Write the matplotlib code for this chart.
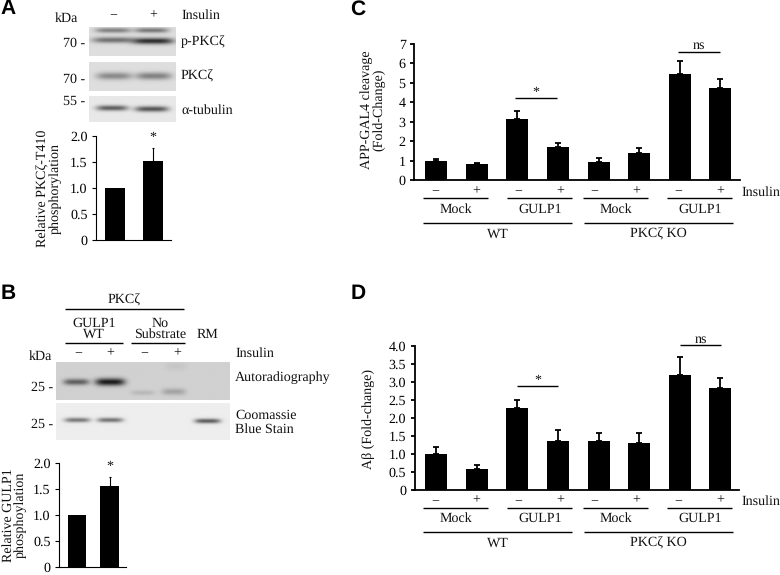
import numpy as np
import matplotlib
matplotlib.use("Agg")
import matplotlib.pyplot as plt

plt.rcParams['font.family'] = ['Liberation Serif', 'DejaVu Serif']
plt.rcParams['text.hinting'] = 'no_hinting'
plt.rcParams['text.hinting_factor'] = 1

W, H = 780, 575

# bar values
a_vals = [1.0, 1.52]
a_err = [0, 0.24]
a_ticks = [0, 0.5, 1.0, 1.5, 2.0]
a_labels = ['0', '0.5', '1.0', '1.5', '2.0']

b_vals = [1.0, 1.56]
b_err = [0, 0.18]

c_vals = [1.0, 0.83, 3.15, 1.72, 0.95, 1.38, 5.45, 4.72]
c_err = [0.08, 0.07, 0.43, 0.18, 0.17, 0.29, 0.68, 0.50]
c_ticks = [0, 1, 2, 3, 4, 5, 6, 7]

d_vals = [1.0, 0.59, 2.28, 1.35, 1.35, 1.30, 3.20, 2.84]
d_err = [0.20, 0.10, 0.22, 0.32, 0.23, 0.28, 0.48, 0.26]
d_ticks = [0, 0.5, 1.0, 1.5, 2.0, 2.5, 3.0, 3.5, 4.0]
d_labels = ['0', '0.5', '1.0', '1.5', '2.0', '2.5', '3.0', '3.5', '4.0']

# blot bands: x centre, y centre, half width, thickness, darkness
pakc_bands = [(113, 30, 18, 2.6, 0.42), (152, 30, 17, 2.6, 0.46),
              (113, 40, 21, 3.0, 0.5), (153, 41, 21, 3.2, 0.8)]
pkc_bands = [(114, 76, 18, 3.8, 0.38), (154, 76, 18, 3.8, 0.42)]
tub_bands = [(112, 108, 16, 2.8, 0.6), (152, 109, 17, 2.9, 0.64)]
auto_bands = [(76, 382, 13, 3.2, 0.55), (110, 382, 15, 3.8, 0.88),
              (143, 393, 12, 2.6, 0.12), (174, 392, 12, 3.4, 0.22),
              (176, 366, 11, 4.5, 0.05)]
coom_bands = [(77, 420, 13, 2.4, 0.5), (110, 420, 13, 2.4, 0.52),
              (208, 421, 13, 2.4, 0.62)]

FS = 10


def draw_blot(ov, x0, x1, y0, y1, bg, bands):
    xx, yy = np.meshgrid(np.arange(x0, x1 + 1), np.arange(y0, y1 + 1))
    img = np.full(xx.shape, float(bg))
    for xc, yc, hw, th, dark in bands:
        shape = np.exp(-((xx - xc) / hw) ** 4) * np.exp(-((yy - yc) / th) ** 2)
        img = img * (1 - dark * shape)
    ov.imshow(img, cmap='gray', vmin=0, vmax=1, extent=[x0, x1, y1, y0],
              interpolation='bilinear', aspect='auto', zorder=1)


def bar_axes(fig, x0, x1, ytop, ybot, ymax, centres, width, vals, errs, ticks, labels, lw, cap):
    ax = fig.add_axes([x0 / W, 1 - ybot / H, (x1 - x0) / W, (ybot - ytop) / H])
    ax.bar(centres, vals, width, color='black', zorder=2)
    for x, v, e in zip(centres, vals, errs):
        if e > 0:
            ax.errorbar([x], [v], yerr=[[0], [e]], fmt='none', ecolor='black',
                        elinewidth=lw, capsize=cap, capthick=lw, zorder=1)
    ax.set_xlim(x0, x1)
    ax.set_ylim(0, ymax)
    ax.set_yticks(ticks)
    ax.set_yticklabels(labels, fontsize=FS)
    ax.set_xticks([])
    ax.spines['top'].set_visible(False)
    ax.spines['right'].set_visible(False)
    ax.spines['left'].set_linewidth(lw)
    ax.spines['bottom'].set_linewidth(lw)
    ax.tick_params(axis='y', length=3, width=lw, pad=3, direction='out')
    ax.patch.set_alpha(0)
    return ax


fig = plt.figure(figsize=(W / 100, H / 100), dpi=100)
ov = fig.add_axes([0, 0, 1, 1])
ov.set_xlim(0, W)
ov.set_ylim(H, 0)
ov.axis('off')


def txt(x, y, s, fs=FS, ha='center', **kw):
    ov.text(x, y, s, fontsize=fs, ha=ha, va='center', color='#111111', **kw)


def hline(x0, x1, y, lw=1.0):
    ov.plot([x0, x1], [y, y], color='black', lw=lw, solid_capstyle='butt')


for s, x, y in [('A', 8, 9), ('B', 8, 294), ('C', 358, 9), ('D', 358, 294)]:
    ov.text(x, y, s, fontsize=15, fontweight='bold', family='Liberation Sans', ha='center', va='center')

# panel A blots
draw_blot(ov, 89, 176, 27, 56, 0.87, pakc_bands)
draw_blot(ov, 89, 176, 62, 91, 0.87, pkc_bands)
draw_blot(ov, 89, 176, 96, 122, 0.91, tub_bands)
txt(66, 18, 'kDa')
txt(113, 15, '\u2212')
txt(153, 15, '+')
txt(181, 15, 'Insulin', ha='left')
txt(181, 42, 'p-PKC\u03b6', ha='left')
txt(181, 76, 'PKC\u03b6', ha='left')
txt(181, 110, '\u03b1-tubulin', ha='left')
txt(85, 43, '70 -', ha='right')
txt(85, 79, '70 -', ha='right')
txt(85, 101, '55 -', ha='right')
txt(153, 138, '*', fs=10)
txt(49.5, 188, 'Relative PKC\u03b6-T410\nphosphorylation', rotation=90, linespacing=1.0)

# panel B blots
draw_blot(ov, 56, 230, 362, 400, 0.82, auto_bands)
draw_blot(ov, 56, 230, 403, 440, 0.93, coom_bands)
txt(124, 300, 'PKC\u03b6')
hline(65, 184, 308.5)
txt(94, 329, 'GULP1\nWT', linespacing=0.82)
hline(65, 123, 343)
txt(160, 329, 'No\nSubstrate', linespacing=0.82)
hline(131, 185, 343)
txt(207, 335, 'RM')
txt(40, 356, 'kDa')
for x, s in [(78, '\u2212'), (110, '+'), (144, '\u2212'), (177, '+')]:
    txt(x, 353, s)
txt(235, 353, 'Insulin', ha='left')
txt(235, 378, 'Autoradiography', ha='left')
txt(235, 415, 'Coomassie', ha='left')
txt(235, 429, 'Blue Stain', ha='left')
txt(53, 387, '25 -', ha='right')
txt(53, 424, '25 -', ha='right')
txt(110, 467, '*', fs=10)
txt(14.5, 515, 'Relative GULP1\nphosphoylation', rotation=90, linespacing=1.0)

# bar charts
bar_axes(fig, 96, 171, 135.7, 240, 2.0, [115, 153], 20, a_vals, a_err, a_ticks, a_labels, 0.8, 1)
bar_axes(fig, 59, 126, 463, 567, 2.0, [77, 109.5], 18.5, b_vals, b_err, a_ticks, a_labels, 0.8, 1)

cd_centres = [436, 476.7, 517.3, 558, 598.5, 639, 679.7, 720]
bar_axes(fig, 414, 740, 44, 180.3, 7, cd_centres, 22, c_vals, c_err, c_ticks,
         [str(t) for t in c_ticks], 1.3, 2)
bar_axes(fig, 414.5, 739, 345.7, 490, 4.0, cd_centres, 22, d_vals, d_err, d_ticks, d_labels, 1.3, 2)

txt(373, 110, 'APP-GAL4 cleavage\n(Fold-Change)', rotation=90, linespacing=1.0)
txt(369, 419, 'A\u03b2 (Fold-change)', rotation=90)

# group labels under C and D
for dy in [0, 309.5]:
    for x, s in zip([435, 476, 518, 560, 594, 636, 678, 720], ['\u2212', '+'] * 4):
        txt(x, 191 + dy, s)
    txt(741, 192 + dy, 'Insulin', ha='left')
    hline(423, 488, 198 + dy)
    hline(507, 572, 198 + dy)
    hline(583, 648, 198 + dy)
    hline(667, 732, 198 + dy)
    txt(456, 209 + dy, 'Mock')
    txt(540, 209 + dy, 'GULP1')
    txt(616, 209 + dy, 'Mock')
    txt(700, 209 + dy, 'GULP1')
    hline(423, 572, 222.5 + dy)
    hline(584, 733, 222.5 + dy)
    txt(498, 234 + dy, 'WT')
    txt(658, 234 + dy, 'PKC\u03b6 KO')

# significance marks
hline(515, 557, 97.5)
txt(536, 93, '*', fs=10)
hline(678, 720, 51.5)
txt(699, 45, 'ns')
hline(517, 558, 385.5)
txt(538, 381, '*', fs=10)
hline(680, 721, 345)
txt(701, 339, 'ns')

fig.savefig('out.png', dpi=100)
